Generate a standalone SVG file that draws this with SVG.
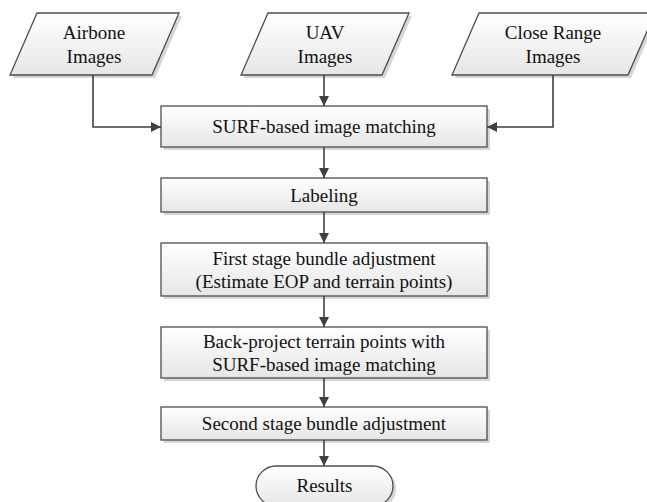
<svg xmlns="http://www.w3.org/2000/svg" width="647" height="502" viewBox="0 0 647 502">
<defs>
<linearGradient id="g" x1="0" y1="0" x2="0" y2="1">
<stop offset="0" stop-color="#ffffff"/>
<stop offset="1" stop-color="#e6e6e6"/>
</linearGradient>
<marker id="ah" viewBox="0 0 10 10" refX="10" refY="5" markerWidth="10" markerHeight="10" markerUnits="userSpaceOnUse" orient="auto">
<path d="M0,0 L10,5 L0,10 Z" fill="#404040"/>
</marker>
</defs>
<style>
.s{fill:url(#g);stroke:#4d4d4d;stroke-width:1.3}
.sh{fill:#d6d6d6;stroke:none}
.t{font-family:"Liberation Serif","Times New Roman",serif;font-size:19px;fill:#111;text-anchor:middle}
.c{fill:none;stroke:#404040;stroke-width:1.6;marker-end:url(#ah)}
</style>
<rect width="647" height="502" fill="#fff"/>
<g id="airbone">
<polygon class="sh" points="40,16 182,16 155,78 13,78"/>
<polygon class="s" points="37,13 179,13 152,75 10,75"/>
<text class="t" x="94" y="38.5">Airbone</text>
<text class="t" x="94" y="62.5">Images</text>
</g>
<g id="uav">
<polygon class="sh" points="271,16 412,16 385,78 244,78"/>
<polygon class="s" points="268,13 409,13 382,75 241,75"/>
<text class="t" x="325" y="38.5">UAV</text>
<text class="t" x="325" y="62.5">Images</text>
</g>
<g id="closerange">
<polygon class="sh" points="482,16 658,16 631,78 455,78"/>
<polygon class="s" points="479,13 655,13 628,75 452,75"/>
<text class="t" x="553" y="38.5">Close Range</text>
<text class="t" x="553" y="62.5">Images</text>
</g>
<g id="surf">
<rect class="sh" x="164" y="109" width="326" height="41"/>
<rect class="s" x="161" y="106" width="326" height="41"/>
<text class="t" x="324" y="133">SURF-based image matching</text>
</g>
<g id="labeling">
<rect class="sh" x="164" y="181" width="326" height="34"/>
<rect class="s" x="161" y="178" width="326" height="34"/>
<text class="t" x="324" y="201.5">Labeling</text>
</g>
<g id="firststage">
<rect class="sh" x="164" y="246" width="326" height="53"/>
<rect class="s" x="161" y="243" width="326" height="53"/>
<text class="t" x="324" y="264.5">First stage bundle adjustment</text>
<text class="t" x="324" y="287.5">(Estimate EOP and terrain points)</text>
</g>
<g id="backproject">
<rect class="sh" x="164" y="330" width="326" height="51"/>
<rect class="s" x="161" y="327" width="326" height="51"/>
<text class="t" x="324" y="347.5">Back-project terrain points with</text>
<text class="t" x="324" y="370.5">SURF-based image matching</text>
</g>
<g id="secondstage">
<rect class="sh" x="164" y="410" width="326" height="33"/>
<rect class="s" x="161" y="407" width="326" height="33"/>
<text class="t" x="324" y="430">Second stage bundle adjustment</text>
</g>
<g id="results">
<rect class="sh" x="259" y="469" width="137" height="40" rx="20" ry="20"/>
<rect class="s" x="256" y="466" width="137" height="40" rx="20" ry="20"/>
<text class="t" x="324.5" y="491.5">Results</text>
</g>
<g id="connectors">
<polyline class="c" points="93,75 93,127 161,127"/>
<line class="c" x1="324" y1="75" x2="324" y2="106"/>
<polyline class="c" points="553,75 553,127 487,127"/>
<line class="c" x1="324" y1="147" x2="324" y2="178"/>
<line class="c" x1="324" y1="212" x2="324" y2="243"/>
<line class="c" x1="324" y1="296" x2="324" y2="327"/>
<line class="c" x1="324" y1="378" x2="324" y2="407"/>
<line class="c" x1="324" y1="440" x2="324" y2="466"/>
</g>
</svg>
